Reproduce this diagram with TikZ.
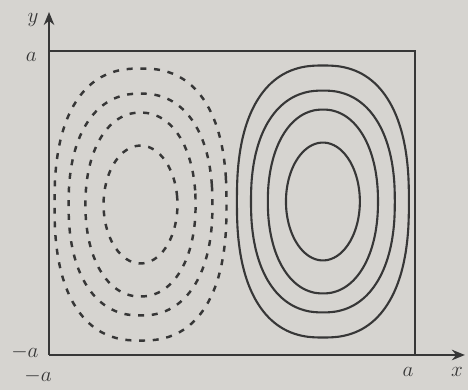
\documentclass[tikz,border=0pt]{standalone}
\usepackage{amsmath}
\usetikzlibrary{arrows.meta}
\definecolor{papel}{RGB}{214,212,208}
\definecolor{tinta}{RGB}{55,55,55}

\begin{document}
\begin{tikzpicture}[x=3.66cm,y=3.04cm,line width=1.1pt,>={Stealth[length=2.6mm,width=2.1mm]},
  lbl/.style={tinta,font=\large},
  curva/.style={tinta,line width=1.2pt},
  rayada/.style={tinta,line width=1.4pt,dash pattern=on 3.4pt off 4.4pt}]
  % fondo y marco
  \fill[papel] (-1.268,-1.230) rectangle (1.290,1.336);
  \useasboundingbox (-1.268,-1.230) rectangle (1.290,1.336);
  \coordinate (O) at (-1,-1);
  \coordinate (xend) at (1.273,-1);
  \coordinate (yend) at (-1,1.257);
  \draw[tinta,->] (O) -- (xend);
  \draw[tinta,->] (O) -- (yend);
  \draw[tinta] (-1,1) -- (1,1) -- (1,-1);
  % rotulos
  \node[lbl] (ylab) at (-1.087,1.204) {$y$};
  \node[lbl,anchor=east] (atop) at (-1.03,0.96) {$a$};
  \node[lbl,anchor=east] (maleft) at (-1.02,-0.985) {$-a$};
  \node[lbl] (mabot) at (-1.06,-1.138) {$-a$};
  \node[lbl] (aright) at (0.962,-1.112) {$a$};
  \node[lbl] (xlab) at (1.23,-1.112) {$x$};
  % lineas de corriente (izq. rayadas, der. continuas)
  \foreach \hw/\hh/\n in {0.470/0.895/2.45,0.393/0.730/2.3,0.301/0.605/2.15,0.202/0.388/2.0}{
    \draw[rayada] plot[smooth cycle,domain=2.5:357.5,samples=72,variable=\t]
      ({-0.5+\hw*sign(cos(\t))*pow(abs(cos(\t)),2/\n)},
       {-0.01+\hh*sign(sin(\t))*pow(abs(sin(\t)),2/\n)});
    \draw[curva] plot[smooth cycle,domain=2.5:357.5,samples=72,variable=\t]
      ({0.497+\hw*sign(cos(\t))*pow(abs(cos(\t)),2/\n)},
       {0.01+\hh*sign(sin(\t))*pow(abs(sin(\t)),2/\n)});
  }
\end{tikzpicture}
\end{document}
